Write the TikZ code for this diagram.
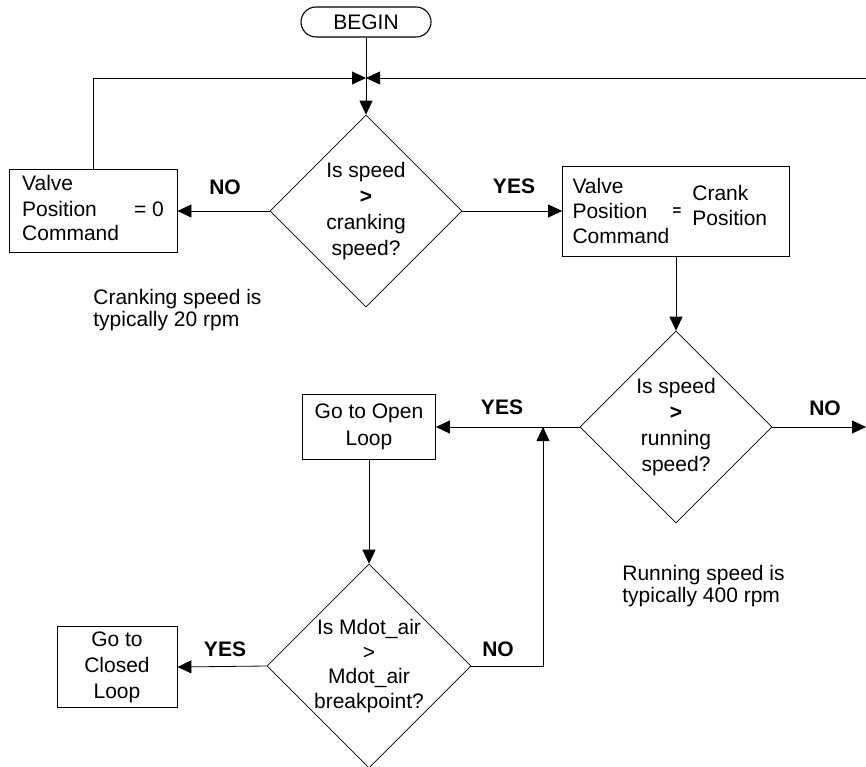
\documentclass[tikz,border=0pt]{standalone}
\usepackage{fontspec}
\setmainfont{Liberation Sans}
\usetikzlibrary{
    arrows.meta,
    shapes.geometric,
    positioning
}

\begin{document}
\begin{tikzpicture}[x=1pt,y=-1pt,
    line width=0.8pt,
    every node/.style={font=\fontsize{21}{25}\selectfont},
    box/.style={draw,rectangle,inner sep=0pt},
    decision/.style={draw,diamond,aspect=1,inner sep=0pt,align=center,line width=0.6pt,
        font=\fontsize{21}{26}\selectfont},
    flow/.style={-{Triangle[length=14pt,width=13pt]}},
    answer/.style={font=\fontsize{21}{25}\selectfont\bfseries},
    note/.style={align=left,inner sep=0pt,font=\fontsize{21}{22}\selectfont}
]
    \useasboundingbox (0,0) rectangle (866,767);

    \node[draw,rounded corners=15pt,minimum width=130pt,minimum height=30pt,
        inner sep=0pt,line width=1.1pt] (begin) at (366,22) {BEGIN};

    \node[decision,minimum width=192pt,minimum height=192pt] (dcrank) at (366,211)
        {Is speed\\\textbf{>}\\cranking\\speed?};
    \node[box,minimum width=168pt,minimum height=83pt] (valve0) at (93,211)
        {\begin{tabular}{@{}l@{\hspace{15pt}}l@{}}Valve&\\Position&= 0\\Command&\end{tabular}};

    \node[box,minimum width=227pt,minimum height=90pt] (valvecrank) at (676,211) {};
    \node[anchor=west,align=left,inner sep=0pt] (vclabel) at ([xshift=10pt]valvecrank.west)
        {Valve\\Position\\Command};
    \node[inner sep=0pt,font=\fontsize{15}{15}\selectfont\bfseries] (vceq) at (677,212) {=};
    \node[anchor=west,align=left,inner sep=0pt] (vcvalue) at (692,205) {Crank\\Position};

    \node[decision,minimum width=192pt,minimum height=192pt] (drun) at (676,427)
        {Is speed\\\textbf{>}\\running\\speed?};
    \node[box,minimum width=133pt,minimum height=65pt,align=center,
        font=\fontsize{21}{27}\selectfont] (openloop) at (369,427) {Go to Open\\Loop};

    \node[decision,minimum width=204pt,minimum height=204pt,font=\fontsize{21}{24.5}\selectfont]
        (dmdot) at (369,666) {Is Mdot\_air\\>\\Mdot\_air\\breakpoint?};
    \node[box,minimum width=120pt,minimum height=81pt,align=center,
        font=\fontsize{21}{26}\selectfont] (closedloop) at (117,667) {Go to\\Closed\\Loop};

    % answers
    \node[answer] (nocrank) at (225,187) {NO};
    \node[answer] (yescrank) at (514,186) {YES};
    \node[answer] (yesrun) at (502,407) {YES};
    \node[answer] (norun) at (825,408) {NO};
    \node[answer] (yesmdot) at (225,649) {YES};
    \node[answer] (nomdot) at (498,649) {NO};

    \node[note,anchor=west] (cranknote) at (93,310.5) {Cranking speed is\\typically 20 rpm};
    \node[note,anchor=west] (runnote) at (622,586.5) {Running speed is\\typically 400 rpm};

    \coordinate (merge) at (366,78);
    \coordinate (loopback) at (866,78);
    \coordinate (runexit) at (866,427);
    \coordinate (join) at (543,427);

    \draw[flow] (begin) -- (dcrank);
    \draw[flow] (valve0.north) |- (merge);
    \draw[flow] (loopback) -- (merge);
    \draw[flow] (dcrank.west) -- (valve0.east);
    \draw[flow] (dcrank.east) -- (valvecrank.west);
    \draw[flow] (valvecrank) -- (drun);
    \draw[flow] (drun.east) -- (runexit);
    \draw[flow] (drun.west) -- (openloop.east);
    \draw[flow] (openloop) -- (dmdot);
    \draw[flow] (dmdot.west) -- (closedloop.east);
    \draw[flow] (dmdot.east) -| (join);
\end{tikzpicture}
\end{document}
